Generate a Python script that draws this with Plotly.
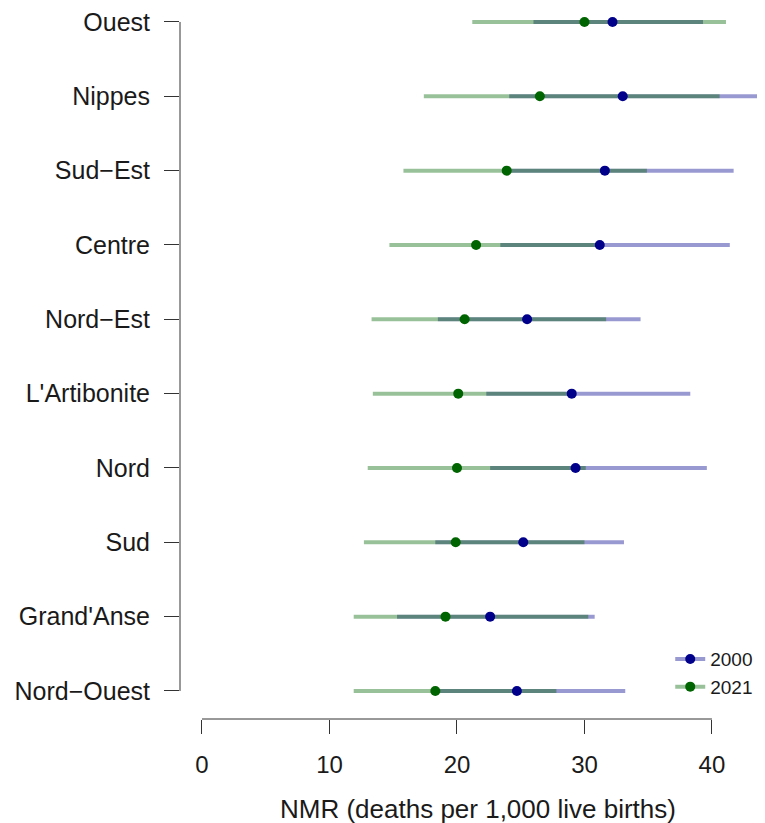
import plotly.graph_objects as go

# Regions, top to bottom as shown
regions = ["Ouest", "Nippes", "Sud\u2212Est", "Centre", "Nord\u2212Est",
           "L'Artibonite", "Nord", "Sud", "Grand'Anse", "Nord\u2212Ouest"]

nmr_2000 = [32.2, 33.0, 31.6, 31.2, 25.5, 29.0, 29.3, 25.2, 22.6, 24.7]
lo_2000 = [26.0, 24.1, 24.0, 23.4, 18.5, 22.3, 22.6, 18.3, 15.3, 18.4]
hi_2000 = [39.3, 43.8, 41.7, 41.4, 34.4, 38.3, 39.6, 33.1, 30.8, 33.2]

nmr_2021 = [30.0, 26.5, 23.9, 21.5, 20.6, 20.1, 20.0, 19.9, 19.1, 18.3]
lo_2021 = [21.2, 17.4, 15.8, 14.7, 13.3, 13.4, 13.0, 12.7, 11.9, 11.9]
hi_2021 = [41.1, 40.6, 34.9, 31.0, 31.7, 28.9, 30.1, 30.0, 30.3, 27.8]

x_ticks = [0, 10, 20, 30, 40]
x_title = "NMR (deaths per 1,000 live births)"

FONT = "Liberation Sans"
C2000 = "#00008B"
C2021 = "#006400"
C2000_L = "rgba(0,0,139,0.4)"
C2021_L = "rgba(0,100,0,0.4)"


def seg(lo, hi, cats):
    xs, ys = [], []
    for a, b, c in zip(lo, hi, cats):
        xs += [a, b, None]
        ys += [c, c, None]
    return xs, ys


fig = go.Figure()
x, y = seg(lo_2000, hi_2000, regions)
fig.add_trace(go.Scatter(x=x, y=y, mode="lines", line=dict(color=C2000_L, width=4),
                         showlegend=False, hoverinfo="skip"))
x, y = seg(lo_2021, hi_2021, regions)
fig.add_trace(go.Scatter(x=x, y=y, mode="lines", line=dict(color=C2021_L, width=4),
                         showlegend=False, hoverinfo="skip"))
fig.add_trace(go.Scatter(x=nmr_2000, y=regions, mode="markers",
                         marker=dict(color=C2000, size=10), showlegend=False))
fig.add_trace(go.Scatter(x=nmr_2021, y=regions, mode="markers",
                         marker=dict(color=C2021, size=10), showlegend=False))
# legend entries
fig.add_trace(go.Scatter(x=[None], y=[None], mode="lines+markers", name="2000",
                         line=dict(color=C2000_L, width=4), marker=dict(color=C2000, size=10),
                         legendgroup="a"))
fig.add_trace(go.Scatter(x=[None], y=[None], mode="lines+markers", name="2021",
                         line=dict(color=C2021_L, width=4), marker=dict(color=C2021, size=10),
                         legendgroup="b"))

n = len(regions)
fig.update_layout(
    width=757, height=815,
    margin=dict(l=172, r=0, t=0, b=104),
    plot_bgcolor="white", paper_bgcolor="white",
    font=dict(family=FONT, size=24, color="#1a1a1a"),
    xaxis=dict(range=[-1.725, 44.16], tickvals=x_ticks, ticks="outside", ticklen=14,
               tickcolor="#333", tickwidth=1, showgrid=False, zeroline=False,
               showline=False, tickfont=dict(size=24), ticklabelstandoff=10),
    yaxis=dict(type="category", categoryorder="array", categoryarray=regions[::-1],
               range=[-0.377, 9.188], ticks="outside", ticklen=15, tickcolor="#333",
               tickwidth=1, showgrid=False, zeroline=False, showline=False,
               tickfont=dict(size=25), ticklabelstandoff=9),
    legend=dict(x=0.838, y=0.111, xanchor="left", yanchor="top", font=dict(size=19),
                bgcolor="rgba(0,0,0,0)", traceorder="grouped", tracegroupgap=0),
    shapes=[
        dict(type="line", xref="x", yref="paper", x0=x_ticks[0], x1=x_ticks[-1], y0=0, y1=0,
             line=dict(color="#333", width=1)),
        dict(type="line", xref="paper", yref="y", x0=0, x1=0, y0=0, y1=n - 1,
             line=dict(color="#333", width=1)),
    ],
    annotations=[dict(text=x_title, xref="paper", yref="paper", x=0.51, y=-0.1265,
                      xanchor="center", yanchor="middle", showarrow=False,
                      font=dict(size=26))],
)

fig.write_html("out.html")
